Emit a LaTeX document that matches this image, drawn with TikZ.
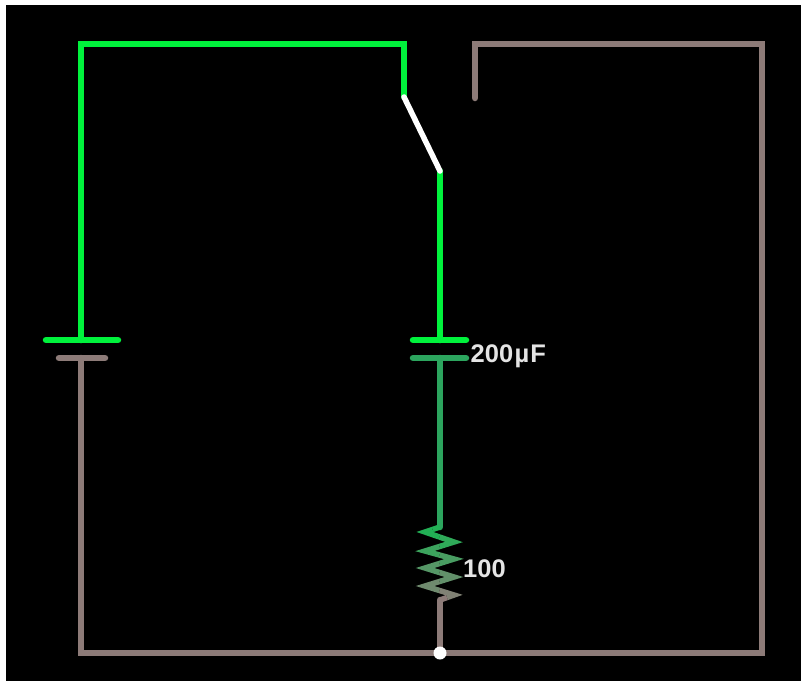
\documentclass[tikz,border=0pt]{standalone}
\usepackage{fontspec}
\usetikzlibrary{calc}
\setmainfont{Liberation Sans}
\definecolor{livegreen}{HTML}{00F23C}
\definecolor{midgreen}{HTML}{2CA55E}
\definecolor{resgreen}{HTML}{22B055}
\definecolor{groundbrown}{HTML}{8D7B78}
\definecolor{labelgrey}{HTML}{E4E4E4}
\tikzset{
  wire/.style={line width=6.5pt,line cap=round,line join=miter},
  plate/.style={line width=6.5pt,line cap=round},
  blade/.style={line width=5.5pt,line cap=round,white},
  zigzag/.style={line width=5.5pt,line cap=butt,line join=miter,miter limit=10},
  valuelabel/.style={text=labelgrey,font=\bfseries\fontsize{25.5}{25.5}\selectfont,inner sep=0pt,anchor=west},
  junction/.style={circle,fill=white,draw=none,minimum size=13pt,inner sep=0pt}
}
\begin{document}
\begin{tikzpicture}[x=1pt,y=-1pt]
\useasboundingbox (0,0) rectangle (801,681);
\fill[white] (0,0) rectangle (801,681);
\fill[black] (6,5) rectangle (801,681);
% named points
\coordinate (battop) at (81,340);
\coordinate (batbot) at (81,358);
\coordinate (tl) at (81,44);
\coordinate (tm) at (404,44);
\coordinate (swa) at (404,97);
\coordinate (swb) at (440,171);
\coordinate (captop) at (440,340);
\coordinate (capbot) at (440,358);
\coordinate (rtop) at (440,527);
\coordinate (rbot) at (440,600);
\coordinate (bl) at (81,653);
\coordinate (br) at (762,653);
\coordinate (tr) at (762,44);
\coordinate (c2) at (475,44);
\coordinate (c1) at (475,98);
\coordinate (jn) at (440,653);
% live wires
\draw[wire,livegreen] (battop) -- (tl) -- (tm) -- (swa);
\draw[wire,livegreen] (swb) -- (captop);
% ground wires
\draw[wire,groundbrown] (c1) -- (c2) -- (tr) -- (br) -- (bl) -- (batbot);
\draw[wire,groundbrown] (rbot) -- (jn);
% battery
\draw[plate,livegreen] (46,340) -- (118,340);
\draw[plate,groundbrown] (59,358) -- (105,358);
% capacitor
\draw[plate,livegreen] (413,340) -- (466,340);
\draw[plate,midgreen] (413,358) -- (466,358);
\draw[wire,midgreen] (capbot) -- (rtop);
% resistor
\coordinate (z0) at (425,532);
\coordinate (z1) at (454,542);
\coordinate (z2) at (425,551);
\coordinate (z3) at (454,559);
\coordinate (z4) at (425,568);
\coordinate (z5) at (454,577);
\coordinate (z6) at (425,586);
\coordinate (z7) at (454,595);
\foreach \p/\v/\n/\m in {rtop/z0/z1/0,z0/z1/z2/12,z1/z2/z3/24,z2/z3/z4/36,z3/z4/z5/48,z4/z5/z6/60,z5/z6/z7/72,z6/z7/rbot/88}{
  \draw[zigzag,color=groundbrown!\m!resgreen] ($(\p)!.5!(\v)$) -- (\v) -- ($(\v)!.5!(\n)$);
}
\draw[zigzag,color=resgreen] (rtop) -- ($(rtop)!.5!(z0)$);
\draw[zigzag,color=groundbrown] ($(z7)!.5!(rbot)$) -- (rbot);
% switch blade
\draw[blade] (swa) -- (swb);
\node[junction] (junction) at (jn) {};
\node[valuelabel] (caplabel) at (470.5,356) {200\kern1.5pt µ\kern1pt F};
\node[valuelabel] (reslabel) at (463,569) {100};
\end{tikzpicture}
\end{document}
